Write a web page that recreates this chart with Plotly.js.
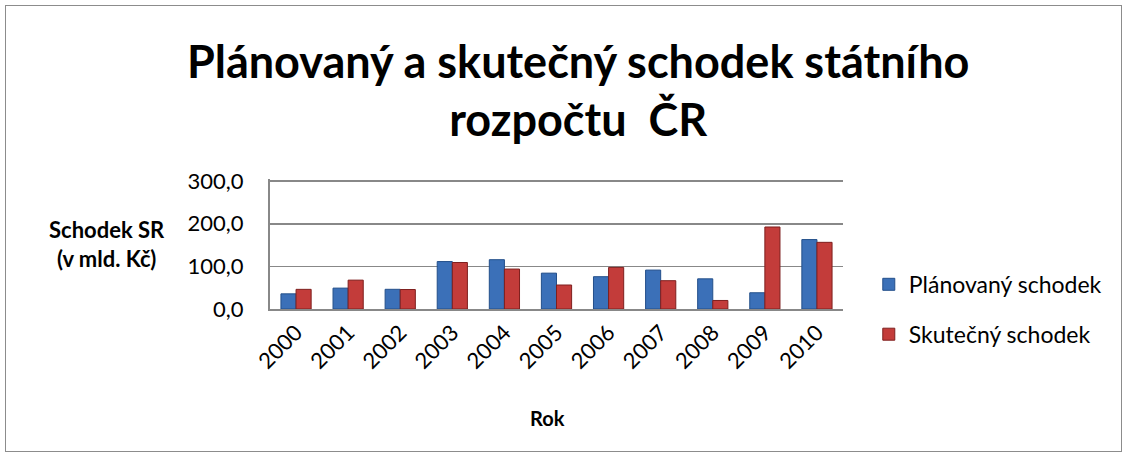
<!DOCTYPE html>
<html>
<head>
<meta charset="utf-8">
<script src="https://cdn.plot.ly/plotly-3.0.1.min.js"></script>
<style>
html,body{margin:0;padding:0;background:#fff;}
#chart{width:1127px;height:456px;}
#frame{position:absolute;left:5px;top:5px;width:1115px;height:445px;border:1px solid #8c8c8c;pointer-events:none;}
</style>
</head>
<body>
<div id="chart"></div>
<div id="frame"></div>
<script>
const years = ['2000','2001','2002','2003','2004','2005','2006','2007','2008','2009','2010'];
const planned = [35.6, 49.0, 46.2, 111.3, 115.7, 84.1, 75.8, 91.3, 70.8, 38.1, 162.9];
const actual = [46.1, 67.7, 45.7, 109.1, 93.7, 56.3, 97.6, 66.4, 20.0, 192.4, 156.4];
const yTicks = [0, 100, 200, 300];
const yTickText = ['0,0', '100,0', '200,0', '300,0'];

const FONT = 'Lato, "Open Sans", sans-serif';

const traces = [
  {type:'bar', name:'Plánovaný schodek', x:years, y:planned, legendgroup:'a',
   marker:{color:'#3b70b8', line:{color:'#234f8a', width:1}}},
  {type:'bar', name:'Skutečný schodek', x:years, y:actual, legendgroup:'b',
   marker:{color:'#c33c3a', line:{color:'#7e1f1e', width:1}}}
];

const layout = {
  width:1127, height:456,
  margin:{l:270, r:284, t:179, b:147},
  paper_bgcolor:'#fff', plot_bgcolor:'#fff',
  font:{family:FONT, size:22, color:'#000'},
  title:{text:'<b>Plánovaný a skutečný schodek státního<br>rozpočtu  ČR</b>', x:0.513, xanchor:'center', y:0.83, yanchor:'top',
         font:{family:FONT, size:45, color:'#000'}},
  barmode:'group', bargap:0.42, bargroupgap:0,
  xaxis:{type:'category', tickangle:-45, showline:true, linecolor:'#888', linewidth:2,
         ticks:'', tickfont:{size:22}, showgrid:false},
  yaxis:{range:[0,305], tickvals:yTicks, ticktext:yTickText, showline:true, linecolor:'#888', linewidth:2,
         gridcolor:'#888', gridwidth:1.5, zeroline:false, ticks:'outside', ticklen:20, tickcolor:'rgba(0,0,0,0)',
         tickfont:{size:22}},
  legend:{x:1.045, xanchor:'left', y:0.355, yanchor:'top', font:{size:23}, tracegroupgap:17, bgcolor:'rgba(0,0,0,0)'},
  annotations:[
    {text:'<b>Schodek SR<br>(v mld. Kč)</b>', xref:'paper', yref:'paper', x:-0.285, y:0.5, xanchor:'center', yanchor:'middle',
     showarrow:false, font:{size:22}, align:'center'},
    {text:'<b>Rok</b>', xref:'paper', yref:'paper', x:0.485, y:-0.84, xanchor:'center', yanchor:'middle',
     showarrow:false, font:{size:20}}
  ],
  showlegend:true
};

Plotly.newPlot('chart', traces, layout, {displayModeBar:false, staticPlot:true});
</script>
</body>
</html>
